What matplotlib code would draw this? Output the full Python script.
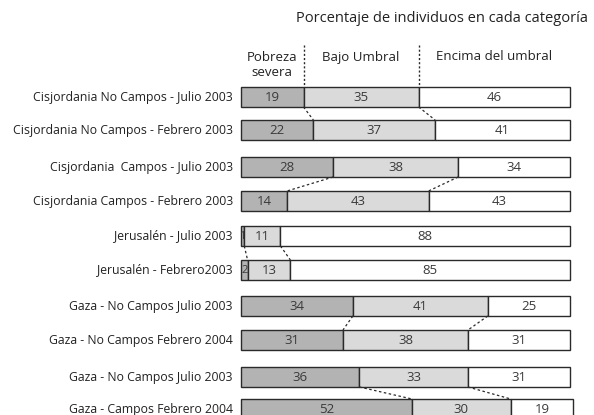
import matplotlib
matplotlib.use("Agg")
import matplotlib.pyplot as plt
import numpy as np

categories = [
    "Cisjordania No Campos - Julio 2003",
    "Cisjordania No Campos - Febrero 2003",
    "Cisjordania  Campos - Julio 2003",
    "Cisjordania Campos - Febrero 2003",
    "Jerusalén - Julio 2003",
    "Jerusalén - Febrero2003",
    "Gaza - No Campos Julio 2003",
    "Gaza - No Campos Febrero 2004",
    "Gaza - No Campos Julio 2003",
    "Gaza - Campos Febrero 2004",
]
pobreza_severa = [19, 22, 28, 14, 1, 2, 34, 31, 36, 52]
bajo_umbral = [35, 37, 38, 43, 11, 13, 41, 38, 33, 30]
encima_umbral = [46, 41, 34, 43, 88, 85, 25, 31, 31, 19]
series_names = ["Pobreza\nsevera", "Bajo Umbral", "Encima del umbral"]
title = "Porcentaje de individuos en cada categoría"

plt.rcParams['font.family'] = ['Open Sans', 'DejaVu Sans']

W, H = 594, 415
fig = plt.figure(figsize=(W / 100, H / 100), dpi=100)
ax = fig.add_axes([0, 0, 1, 1])
ppu = 3.29
x0px = 241
ax.set_xlim(-x0px / ppu, (W - x0px) / ppu)
ax.set_ylim(H, 0)
ax.axis("off")

# layout: row centres (pixel units)
ypos = [97, 130, 167, 201, 236, 270, 306, 340, 377, 409]
bh = 20

colors = ["#b3b3b3", "#dadada", "#ffffff"]
edge = "#2a2a2a"
txtc = "#3a3a3a"
lblc = "#222222"

data = np.array([pobreza_severa, bajo_umbral, encima_umbral]).T
for i, (row, y) in enumerate(zip(data, ypos)):
    left = 0
    for j, v in enumerate(row):
        ax.barh(y, v, left=left, height=bh, color=colors[j], edgecolor=edge, linewidth=1.0)
        fs = 9.5 if v >= 3 else 8
        ax.text(left + v / 2, y, str(v), ha="center", va="center", fontsize=fs, color=txtc)
        left += v
    ax.text(-2.5, y, categories[i], ha="right", va="center", fontsize=8.8, color=lblc)

# dashed connectors within each pair
for p in range(0, len(ypos), 2):
    up, lo = data[p], data[p + 1]
    for k in (1, 2):
        xa = up[:k].sum()
        xb = lo[:k].sum()
        ax.plot([xa, xb], [ypos[p] + bh / 2, ypos[p + 1] - bh / 2], color=edge,
                linestyle=(0, (2, 2)), linewidth=0.9)

# header
b1 = data[0][0]
b2 = data[0][:2].sum()
for xb in (b1, b2):
    ax.plot([xb, xb], [45, ypos[0] - bh / 2], color=edge, linestyle=(0, (1.5, 1.5)), linewidth=1.0)
ax.text(b1 / 2, 65, series_names[0], ha="center", va="center", fontsize=9.5, color=lblc, linespacing=1.15)
ax.text((b1 + b2) / 2, 57, series_names[1], ha="center", va="center", fontsize=9.5, color=lblc)
ax.text((b2 + 100) / 2, 57, series_names[2], ha="center", va="center", fontsize=9.5, color=lblc)
ax.text((588 - x0px) / ppu, 18, title, ha="right", va="center", fontsize=10.5, color=lblc)

fig.savefig("out.png", dpi=100)
